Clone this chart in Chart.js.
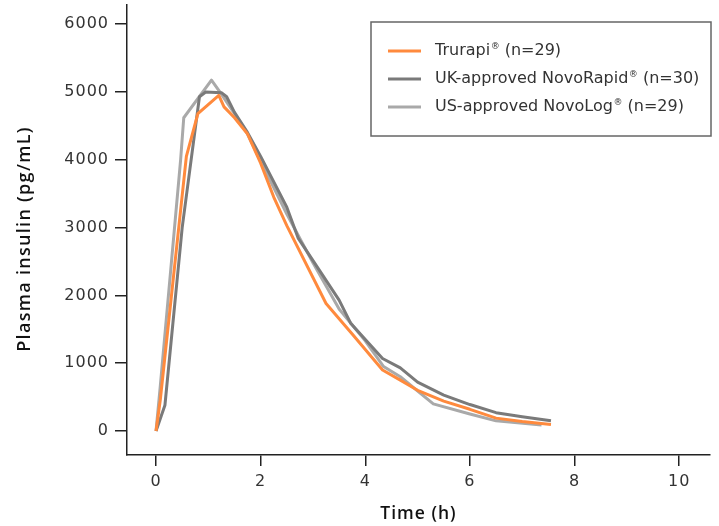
<!DOCTYPE html>
<html>
<head>
<meta charset="utf-8">
<script src="https://cdn.jsdelivr.net/npm/chart.js@4/dist/chart.umd.min.js"></script>
<style>
  html, body { margin: 0; padding: 0; background: #fff; }
  #wrap { width: 719px; height: 526px; }
</style>
</head>
<body>
<div id="wrap"><canvas id="c" width="719" height="526"></canvas></div>
<script>
// ---- Data ----
const xTicks = [0, 2, 4, 6, 8, 10];
const yTicks = [0, 1000, 2000, 3000, 4000, 5000, 6000];
const xTitle = 'Time (h)';
const yTitle = 'Plasma insulin (pg/mL)';

const seriesNames = ['Trurapi', 'UK-approved NovoRapid', 'US-approved NovoLog'];
const seriesN = ['(n=29)', '(n=30)', '(n=29)'];

const trurapiTime = [0, 0.08, 0.58, 0.8, 1.2, 1.3, 1.5, 1.75, 2.0, 2.25, 2.5, 3.25, 3.75, 4.33, 4.67, 5.0, 5.5, 6.0, 6.5, 7.0, 7.55];
const trurapiConc = [0, 450, 4050, 4680, 4950, 4780, 4620, 4380, 3950, 3450, 3030, 1880, 1430, 900, 750, 600, 440, 320, 190, 140, 95];

const ukTime = [0, 0.17, 0.5, 0.83, 0.95, 1.25, 1.35, 1.5, 1.75, 2.0, 2.5, 2.72, 3.2, 3.5, 3.72, 4.33, 4.67, 5.0, 5.5, 6.0, 6.5, 7.0, 7.55];
const ukConc = [0, 380, 3000, 4930, 5000, 4990, 4930, 4700, 4400, 4050, 3300, 2840, 2280, 1930, 1590, 1070, 930, 720, 530, 390, 270, 210, 150];

const usTime = [0, 0.08, 0.47, 0.53, 1.06, 1.22, 1.5, 1.75, 2.0, 2.5, 3.0, 3.5, 4.0, 4.35, 4.67, 5.3, 6.0, 6.5, 7.37];
const usConc = [0, 650, 4000, 4620, 5175, 5000, 4680, 4380, 3980, 3200, 2480, 1800, 1330, 950, 800, 400, 250, 150, 90];

const colors = ['#FF8A3D', '#7A7A7A', '#A9A9A9'];

function pts(t, v) { return t.map((x, i) => ({ x: x, y: v[i] })); }

const FONT = "'DejaVu Sans', 'Open Sans', sans-serif";
const TITLE_FONT = "'Open Sans', 'DejaVu Sans', sans-serif";
const TEXT = '#333333';

// letter spacing for tick labels (reference font is wide)
const spacing = {
  id: 'spacing',
  beforeDraw(chart) { chart.ctx.save(); chart.ctx.letterSpacing = '1px'; },
  afterDatasetsDraw(chart) { chart.ctx.restore(); }
};

// y-axis title drawn slightly below the axis centre, as in the reference
const yTitlePlugin = {
  id: 'yTitlePlugin',
  afterDraw(chart) {
    const ctx = chart.ctx;
    ctx.save();
    ctx.letterSpacing = '1.3px';
    ctx.translate(25, 239);
    ctx.rotate(-Math.PI / 2);
    ctx.font = '600 18px ' + TITLE_FONT;
    ctx.fillStyle = '#111111';
    ctx.textAlign = 'center';
    ctx.textBaseline = 'middle';
    ctx.fillText(yTitle, 0, 0);
    ctx.restore();
  }
};

// ---- Custom boxed legend (with superscript ®) ----
const boxLegend = {
  id: 'boxLegend',
  afterDraw(chart) {
    const ctx = chart.ctx;
    ctx.save();
    ctx.letterSpacing = '0px';
    const bx = 371, by = 22, bw = 340, bh = 114;
    ctx.strokeStyle = '#666666';
    ctx.lineWidth = 1.5;
    ctx.strokeRect(bx, by, bw, bh);
    const rows = [51, 79, 107];
    chart.data.datasets.forEach((ds, i) => {
      const y = rows[i];
      ctx.strokeStyle = ds.borderColor;
      ctx.lineWidth = 3;
      ctx.beginPath();
      ctx.moveTo(388, y);
      ctx.lineTo(421, y);
      ctx.stroke();
      const parts = ds.label.split('®');
      ctx.fillStyle = TEXT;
      ctx.textBaseline = 'middle';
      ctx.textAlign = 'left';
      ctx.font = '16px ' + FONT;
      let x = 435;
      ctx.fillText(parts[0], x, y);
      x += ctx.measureText(parts[0]).width + 0.5;
      ctx.font = '9px ' + FONT;
      ctx.fillText('®', x, y - 4);
      x += ctx.measureText('®').width;
      ctx.font = '16px ' + FONT;
      ctx.fillText(parts[1], x, y);
    });
    ctx.restore();
  }
};

new Chart(document.getElementById('c'), {
  type: 'line',
  data: {
    datasets: [
      { label: seriesNames[0] + '® ' + seriesN[0], data: pts(trurapiTime, trurapiConc), borderColor: colors[0] },
      { label: seriesNames[1] + '® ' + seriesN[1], data: pts(ukTime, ukConc), borderColor: colors[1] },
      { label: seriesNames[2] + '® ' + seriesN[2], data: pts(usTime, usConc), borderColor: colors[2] }
    ].map(d => Object.assign(d, { borderWidth: 3, pointRadius: 0, tension: 0, fill: false, backgroundColor: d.borderColor, borderJoinStyle: 'round' }))
  },
  options: {
    responsive: false,
    animation: false,
    layout: { padding: { top: 5, right: 9, left: 0, bottom: 0 } },
    plugins: { legend: { display: false }, tooltip: { enabled: false } },
    scales: {
      x: {
        type: 'linear',
        min: -0.555,
        max: 10.59,
        afterBuildTicks: s => { s.ticks = xTicks.map(v => ({ value: v })); },
        afterFit: s => { s.height = 71; s.paddingLeft = 0; s.paddingRight = 0; },
        border: { display: true, color: '#222222', width: 1.5 },
        grid: { display: true, drawOnChartArea: false, drawTicks: true, tickLength: 11, color: '#222222', lineWidth: 1.5 },
        ticks: { color: TEXT, font: { family: FONT, size: 16 }, padding: 6, maxRotation: 0, callback: v => String(v) },
        title: { display: true, text: xTitle, color: '#111111', font: { family: TITLE_FONT, size: 17.5, weight: '600' }, padding: { top: 0, bottom: 1 } }
      },
      y: {
        type: 'linear',
        min: -354,
        max: 6283,
        afterBuildTicks: s => { s.ticks = yTicks.map(v => ({ value: v })); },
        afterFit: s => { s.width = 127; s.paddingTop = 0; s.paddingBottom = 0; },
        border: { display: true, color: '#222222', width: 1.5 },
        grid: { display: true, drawOnChartArea: false, drawTicks: true, tickLength: 12, color: '#222222', lineWidth: 1.5 },
        ticks: { color: TEXT, font: { family: FONT, size: 16 }, padding: 6, callback: v => String(v) },
        title: { display: false }
      }
    }
  },
  plugins: [spacing, boxLegend, yTitlePlugin]
});
</script>
</body>
</html>
